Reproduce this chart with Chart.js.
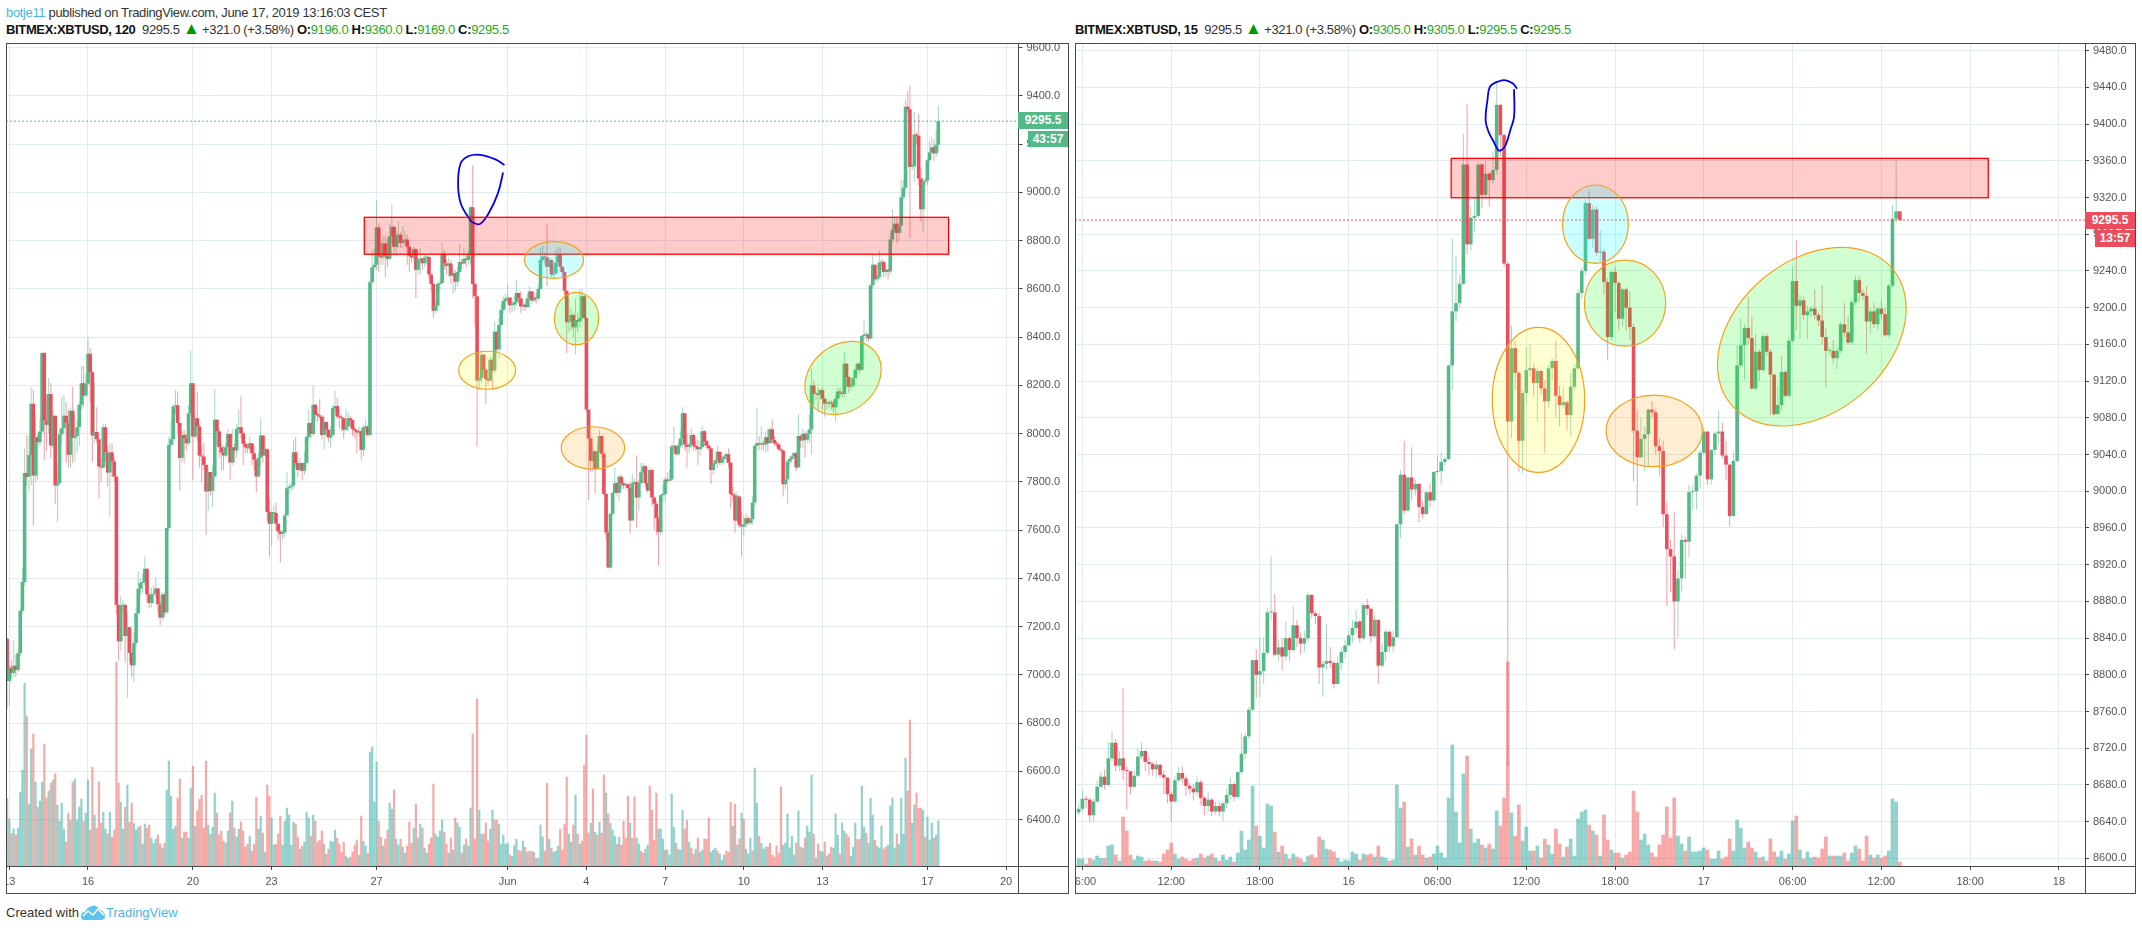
<!DOCTYPE html>
<html>
<head>
<meta charset="utf-8">
<script src="https://cdn.jsdelivr.net/npm/chart.js@4"></script>
<style>
body { margin: 0; background: #fff; width: 2142px; height: 930px; overflow: hidden; font-family: "Liberation Sans", sans-serif; font-size: 13px; color: #333; }
.abs { position: absolute; white-space: nowrap; }
.head { letter-spacing: -0.35px; }
canvas { position: absolute; display: block; }
.frame { position: absolute; box-sizing: border-box; border: 1px solid #4a4a4a; pointer-events: none; }
.rule { position: absolute; background: #4a4a4a; }
.tag { position: absolute; color: #fff; font-weight: bold; font-size: 12px; text-align: center; }
.sym { font-weight: bold; color: #111; }
.val { color: #1ea81e; }
.up { color: #009900; font-size: 17px; line-height: 0; letter-spacing: -1px; }
.blue { color: #4db5e6; }
</style>
</head>
<body>
<div class="abs head" style="left:6px;top:5px"><span class="blue">botje11</span> published on TradingView.com, June 17, 2019 13:16:03 CEST</div>
<div class="abs head" style="left:6px;top:22px"><span class="sym">BITMEX:XBTUSD, 120</span>&nbsp; 9295.5 <span class="up">▲</span> +321.0 (+3.58%) <span class="sym">O:</span><span class="val">9196.0</span> <span class="sym">H:</span><span class="val">9360.0</span> <span class="sym">L:</span><span class="val">9169.0</span> <span class="sym">C:</span><span class="val">9295.5</span></div>
<div class="abs head" style="left:1075px;top:22px"><span class="sym">BITMEX:XBTUSD, 15</span>&nbsp; 9295.5 <span class="up">▲</span> +321.0 (+3.58%) <span class="sym">O:</span><span class="val">9305.0</span> <span class="sym">H:</span><span class="val">9305.0</span> <span class="sym">L:</span><span class="val">9295.5</span> <span class="sym">C:</span><span class="val">9295.5</span></div>

<canvas id="left-chart" width="1062" height="850" style="left:6px;top:43px"></canvas>
<canvas id="right-chart" width="1060" height="850" style="left:1075px;top:43px"></canvas>

<div class="frame" style="left:6px;top:43px;width:1063px;height:851px"></div>
<div class="rule" style="left:1018px;top:43px;width:1px;height:850px"></div>
<div class="rule" style="left:6px;top:866px;width:1062px;height:1px"></div>
<div class="frame" style="left:1075px;top:43px;width:1061px;height:851px"></div>
<div class="rule" style="left:2085px;top:43px;width:1px;height:850px"></div>
<div class="rule" style="left:1075px;top:866px;width:1060px;height:1px"></div>

<div class="tag" style="left:1018px;top:112px;width:50px;height:17px;line-height:17px;background:#53b987">9295.5</div>
<div class="tag" style="left:1028px;top:131px;width:40px;height:16px;line-height:16px;background:#53b987">43:57</div>
<div class="tag" style="left:2085px;top:212px;width:50px;height:17px;line-height:17px;background:#eb4d5c">9295.5</div>
<div class="tag" style="left:2095px;top:230px;width:40px;height:17px;line-height:17px;background:#eb4d5c">13:57</div>

<div class="abs" style="left:6px;top:905px">Created with</div>
<svg class="abs" style="left:81px;top:904px" width="25" height="17" viewBox="0 0 25 17">
  <path d="M3 16 Q0 16 0 12 Q0 8 4 8 Q6 3 11 2 Q15 0 18 5 Q24 7 24 12 Q24 16 20 16 Z" fill="#5cc3ee"/>
  <path d="M2 12 L7 7 L12 11 L17 5 L23 11" fill="none" stroke="#fff" stroke-width="1.6"/>
</svg>
<div class="abs blue" style="left:106px;top:905px">TradingView</div>

<script>
/*
Data: one close, high, low and signed volume per bar
(a bar opens at the previous close, negative volume is a down bar)
*/
const leftFirstOpen = 7150;
const leftCloses = [
    6975,7030,7008,7038,7020,7090,7266,7385,7837,7822,7912,8124,
    7827,7985,7965,8009,8334,8055,8037,8165,7951,8074,7785,7795,
    7998,8023,8074,8044,7913,8095,7982,7990,8027,8120,8209,8158,
    8207,8331,8255,7993,8007,7977,7864,7860,8027,7922,7839,7922,
    7885,7823,7291,7140,7287,7290,7161,7198,7092,7040,7132,7256,
    7357,7381,7385,7440,7333,7298,7333,7338,7358,7293,7238,7333,
    7260,7609,7954,7977,8113,8118,8044,7899,7995,7981,7960,8085,
    8209,7988,8064,8030,7910,7905,7871,7760,7841,7763,7823,8058,
    8010,7944,7922,7910,7944,7999,7881,7944,7930,8019,8027,8002,
    7958,7944,7940,7960,7919,7892,7823,7900,7992,7910,7936,7675,
    7627,7671,7671,7627,7595,7584,7590,7661,7774,7780,7785,7923,
    7878,7850,7878,7846,7880,7986,8044,7999,8120,8082,8075,8070,
    7995,8048,8016,7984,7995,8106,8115,8071,8068,8064,8016,8030,
    8064,8057,8019,8013,8005,8010,7933,8027,8030,7995,8628,8690,
    8700,8855,8738,8730,8788,8738,8725,8818,8858,8775,8822,8825,
    8790,8800,8805,8775,8738,8730,8765,8680,8722,8725,8707,8730,
    8732,8660,8620,8510,8530,8620,8625,8746,8705,8695,8705,8655,
    8665,8630,8670,8712,8705,8725,8720,8740,8939,8620,8570,8220,
    8230,8327,8265,8227,8220,8306,8262,8423,8350,8451,8513,8550,
    8560,8565,8532,8535,8545,8583,8560,8527,8535,8525,8560,8589,
    8552,8565,8560,8600,8720,8735,8730,8692,8720,8660,8665,8710,
    8745,8692,8670,8593,8462,8465,8492,8441,8470,8465,8480,8570,
    8480,8100,7980,7887,7927,7855,7927,7990,7917,7750,7590,7445,
    7668,7755,7795,7755,7822,7795,7785,7790,7775,7640,7795,7800,
    7735,7795,7840,7865,7795,7765,7850,7735,7710,7650,7592,7745,
    7750,7810,7805,7810,7947,7950,7915,7950,7980,8085,7955,7945,
    7955,7995,7950,7945,7935,7945,8010,7970,7950,7940,7850,7875,
    7890,7925,7880,7895,7905,7915,7880,7750,7745,7640,7740,7620,
    7615,7625,7650,7630,7645,7715,7950,7960,7955,7960,7955,7985,
    7960,8018,7975,7960,7955,7935,7930,7790,7810,7885,7895,7905,
    7920,7860,7990,7972,8000,7975,8000,8017,8200,8165,8165,8160,
    8180,8145,8125,8125,8130,8125,8110,8145,8175,8170,8165,8290,
    8235,8195,8200,8230,8265,8290,8265,8405,8410,8410,8395,8615,
    8700,8640,8650,8710,8712,8670,8680,8672,8805,8845,8870,8832,
    8863,8980,9020,9355,9345,9105,9110,9240,9235,9058,8930,9044,
    9050,9133,9167,9187,9163,9198,9295.5
];
const leftHighs = [
    7157,7040,7060,7143,7085,7105,7280,7440,7940,7995,7990,8193,
    8182,8080,8000,8060,8340,8340,8160,8230,8210,8100,8074,7880,
    8020,8151,8160,8130,8100,8110,8195,8080,8060,8130,8281,8280,
    8250,8400,8355,8260,8215,8110,8000,7900,8040,8040,7950,7960,
    7960,7900,7823,7290,7330,7310,7295,7260,7200,7095,7175,7280,
    7429,7400,7420,7491,7440,7340,7360,7370,7405,7360,7300,7345,
    7340,7610,7988,8051,8120,8180,8175,8050,8010,8015,8000,8120,
    8345,8209,8080,8175,8040,7950,7960,7870,7860,7840,7870,8185,
    8060,8020,7960,7950,7960,8020,8000,8020,7960,8040,8100,8155,
    8010,7970,7960,7990,7962,7950,7895,7920,8060,7995,7992,7940,
    7735,7680,7700,7715,7630,7600,7600,7670,7840,7790,7800,7975,
    7985,7890,7900,7880,7925,7992,8100,8050,8198,8125,8090,8143,
    8075,8075,8050,8020,8030,8120,8178,8150,8100,8080,8070,8105,
    8090,8075,8060,8030,8020,8030,8020,8035,8060,8035,8640,8760,
    8770,8966,8870,8800,8820,8820,8810,8870,8952,8860,8840,8880,
    8835,8860,8840,8825,8780,8750,8775,8770,8730,8770,8730,8740,
    8740,8735,8665,8625,8550,8630,8640,8790,8760,8720,8730,8720,
    8680,8680,8690,8787,8725,8770,8740,8760,8945,9112,8625,8570,
    8235,8345,8330,8270,8235,8320,8315,8465,8425,8480,8540,8570,
    8580,8620,8560,8560,8570,8636,8585,8590,8560,8545,8580,8610,
    8595,8590,8580,8615,8770,8780,8750,8866,8730,8725,8700,8760,
    8775,8770,8695,8675,8595,8560,8520,8500,8560,8500,8600,8600,
    8575,8485,8100,7985,7940,7930,7960,8015,7995,7920,7755,7600,
    7670,7760,7860,7800,7830,7830,7800,7800,7795,7800,7835,7815,
    7910,7810,7880,7880,7870,7800,7860,7855,7740,7720,7655,7750,
    7790,7820,7840,7850,7955,8030,7950,7960,8010,8110,8085,8000,
    7960,8020,8000,7970,7975,7970,8030,8015,7975,7955,7945,7880,
    7895,7950,7925,7910,7915,7925,7940,7885,7780,7755,7760,7745,
    7680,7660,7670,7660,7650,7740,7955,8105,7990,8030,7970,8010,
    8020,8030,8060,7990,7970,7965,7940,7935,7815,7890,7905,7915,
    7925,7925,8080,7995,8020,8010,8010,8080,8270,8220,8175,8190,
    8185,8190,8150,8135,8140,8140,8140,8160,8190,8190,8175,8340,
    8295,8240,8205,8235,8270,8295,8295,8410,8470,8420,8415,8620,
    8745,8700,8660,8760,8725,8720,8695,8685,8830,8930,8900,8900,
    8880,9053,9053,9386,9420,9441,9120,9335,9250,9325,9100,9060,
    9060,9140,9215,9230,9220,9260,9360
];
const leftLows = [
    6860,6870,6985,6990,6990,7010,7075,7255,7370,7785,7756,7785,
    7622,7800,7810,7950,8000,7890,7930,8000,7900,7940,7710,7632,
    7790,7960,8000,7880,7860,7860,7880,7885,7920,7950,8100,8110,
    8150,8200,8130,7885,7960,7960,7730,7800,7855,7880,7780,7657,
    7820,7800,7250,7060,7100,7250,7050,6905,7050,6990,6970,7120,
    7250,7330,7340,7370,7300,7275,7280,7295,7320,7260,7205,7225,
    7240,7250,7600,7935,7950,8080,8000,7765,7880,7880,7930,7950,
    8070,7810,7980,7970,7860,7800,7850,7581,7680,7745,7694,7820,
    7950,7900,7850,7850,7900,7940,7809,7870,7880,7900,8000,7980,
    7870,7920,7920,7930,7870,7850,7757,7820,7870,7880,7905,7640,
    7490,7535,7640,7600,7560,7466,7560,7570,7726,7750,7760,7770,
    7860,7820,7840,7809,7830,7875,7970,7980,7990,8060,8050,8060,
    7975,7935,7990,7965,7943,7995,8090,8060,8020,8010,7980,8010,
    8010,8030,7990,7980,7920,7990,7889,7906,8000,7985,7990,8620,
    8680,8680,8670,8700,8700,8650,8690,8720,8790,8750,8740,8770,
    8770,8770,8780,8700,8670,8710,8720,8562,8660,8660,8680,8690,
    8700,8640,8590,8480,8500,8510,8595,8620,8680,8660,8650,8620,
    8580,8590,8610,8650,8680,8700,8690,8700,8700,8560,8450,7947,
    8190,8210,8235,8120,8200,8215,8180,8250,8335,8313,8440,8500,
    8520,8540,8500,8505,8510,8530,8540,8500,8510,8510,8520,8520,
    8540,8545,8540,8550,8607,8710,8700,8610,8690,8650,8645,8660,
    8695,8670,8650,8560,8335,8420,8430,8400,8330,8420,8440,8470,
    8470,8090,7725,7840,7840,7750,7850,7920,7900,7740,7560,7445,
    7440,7660,7750,7740,7720,7770,7770,7770,7760,7585,7640,7790,
    7610,7680,7790,7830,7780,7755,7760,7700,7600,7580,7453,7580,
    7720,7720,7795,7800,7805,7920,7905,7910,7940,7945,7930,7860,
    7920,7940,7930,7930,7870,7910,7940,7950,7940,7930,7790,7830,
    7870,7860,7870,7870,7880,7880,7860,7690,7720,7590,7630,7610,
    7490,7580,7610,7620,7620,7625,7700,7930,7930,7930,7930,7920,
    7925,7960,7960,7950,7945,7930,7925,7740,7770,7710,7870,7880,
    7900,7845,7860,7940,7940,7900,7960,7960,7915,8120,8140,8090,
    8140,8100,8070,8100,8110,8100,8085,8050,8120,8155,8150,8150,
    8190,8170,8180,8190,8230,8260,8250,8260,8390,8380,8380,8390,
    8600,8630,8630,8640,8680,8650,8650,8640,8660,8790,8835,8790,
    8800,8830,8970,9010,9330,8811,9090,9045,9200,9030,8880,8835,
    9030,9030,9125,9160,9130,9150,9169
];
const leftVolumes = [
    -204,142,-99,112,-94,115,223,289,549,-451,187,352,-397,253,-178,196,253,-367,-205,226,-250,259,-277,184,
    136,190,112,-73,-160,139,-253,262,139,178,202,-136,160,259,-109,-298,154,-115,-253,-130,163,112,-97,163,
    -88,-109,-613,-250,193,112,-178,244,-133,-190,128,109,118,-121,67,127,-115,-124,85,69,82,-94,-67,55,
    -70,229,316,211,112,121,-205,-262,85,-103,-103,85,235,-301,121,-166,-202,-214,-115,-316,124,-97,118,220,
    -160,-94,-106,-76,70,106,-160,196,-115,88,112,-133,-106,-58,-67,91,-46,-67,-208,112,151,-100,43,-244,
    -211,145,64,-67,-97,-151,64,136,175,154,64,133,-127,-88,52,-61,73,163,145,-91,154,-136,-73,-79,
    -106,67,-37,-52,76,73,109,-85,-67,-43,-73,31,24,-28,-43,-64,-79,34,-151,76,61,-40,343,358,
    193,313,-136,-88,61,-82,-109,190,172,-229,82,64,-82,58,40,-61,-133,-69,115,-187,85,127,-115,55,
    40,-67,-85,-247,97,88,106,139,-103,-67,40,-85,49,-145,130,118,-40,64,-82,61,175,-397,-82,-502,
    169,97,-97,-130,-76,112,169,-139,-139,127,67,94,67,70,-34,30,62,82,-49,-46,76,-57,43,-46,
    -45,42,-25,25,124,88,-46,-250,82,-55,43,46,61,-112,-49,-127,-268,97,73,-124,214,-97,67,-76,
    -304,-394,-100,130,-232,103,-94,133,-100,-274,220,-157,130,109,91,-67,88,-64,-136,-85,-211,130,-85,-208,
    85,67,-46,-40,52,64,-241,-169,-79,-220,112,112,82,-49,49,34,217,118,-70,52,49,169,-112,-139,
    73,-55,-37,52,-85,43,49,-82,-82,-145,43,49,55,-46,37,19,34,-46,-43,-193,121,-187,64,-82,
    160,-142,52,37,85,-46,295,190,-91,70,52,58,-58,-70,-34,-28,-61,-40,-238,64,70,157,55,91,
    34,-70,166,-58,55,-85,121,103,274,-97,25,-67,46,43,-73,31,-37,-58,55,157,94,-37,130,106,
    -97,-88,31,58,130,-80,-82,241,118,-100,70,205,154,-79,61,55,121,-52,-58,64,181,205,55,-97,
    67,205,97,325,-226,-439,130,184,-220,-175,-175,169,-88,148,79,130,-85,94,136
];

const rightFirstOpen = 8650;
const rightCloses = [
    8654,8665,8664,8647,8662,8678,8689,8680,8709,8726,8701,8709,
    8696,8695,8678,8690,8711,8717,8705,8703,8697,8702,8691,8688,
    8670,8662,8685,8693,8687,8679,8676,8672,8683,8666,8657,8664,
    8651,8657,8651,8660,8669,8681,8667,8694,8714,8733,8762,8816,
    8800,8804,8824,8868,8868,8822,8830,8820,8840,8827,8854,8840,
    8834,8840,8887,8867,8864,8808,8812,8815,8813,8790,8813,8825,
    8832,8843,8851,8858,8840,8876,8872,8842,8860,8810,8825,8847,
    8831,8841,8964,9018,8979,9015,9002,9008,8983,8975,8999,8990,
    9021,9022,9032,9035,9137,9196,9205,9226,9356,9269,9298,9300,
    9356,9323,9346,9339,9350,9421,9388,9248,9076,9156,9129,9055,
    9107,9132,9134,9118,9131,9112,9098,9134,9142,9104,9094,9097,
    9083,9114,9134,9216,9240,9314,9275,9307,9260,9261,9228,9168,
    9239,9227,9188,9220,9200,9179,9066,9037,9057,9062,9089,9086,
    9049,9044,8975,8937,8929,8880,8905,8947,8945,8999,9000,9017,
    9042,9065,9013,9045,9063,9065,9039,9029,8973,9033,9137,9159,
    9178,9167,9112,9152,9132,9169,9152,9127,9084,9094,9130,9104,
    9164,9229,9202,9208,9192,9196,9199,9192,9186,9168,9153,9153,
    9145,9153,9182,9173,9162,9206,9230,9216,9213,9185,9196,9182,
    9199,9193,9170,9224,9297,9305,9295.5
];
const rightHighs = [
    8660,8674,8668,8666,8665,8685,8695,8697,8727,8739,8730,8717,
    8785,8700,8695,8696,8720,8726,8718,8711,8705,8706,8703,8696,
    8688,8673,8690,8700,8700,8690,8682,8681,8689,8686,8668,8672,
    8666,8662,8662,8662,8676,8688,8683,8695,8737,8737,8765,8816,
    8828,8840,8840,8873,8929,8888,8838,8840,8858,8842,8875,8860,
    8846,8848,8890,8888,8870,8868,8816,8855,8830,8815,8820,8830,
    8838,8848,8860,8870,8860,8878,8883,8873,8865,8860,8835,8850,
    8848,8848,8964,9023,9055,9016,9048,9013,9009,8990,9000,9009,
    9022,9039,9043,9038,9138,9275,9256,9236,9389,9422,9310,9321,
    9359,9358,9360,9348,9370,9445,9422,9390,9250,9180,9164,9131,
    9110,9157,9160,9140,9135,9133,9121,9138,9146,9164,9115,9114,
    9099,9129,9138,9220,9244,9318,9328,9312,9310,9284,9264,9232,
    9240,9245,9229,9222,9222,9218,9183,9089,9080,9070,9090,9098,
    9090,9058,9055,8988,8947,8978,8914,8953,8950,9007,9007,9020,
    9045,9070,9066,9046,9065,9088,9075,9055,9030,9044,9159,9188,
    9182,9212,9190,9172,9155,9172,9172,9155,9128,9114,9147,9132,
    9168,9245,9274,9214,9212,9202,9202,9220,9195,9225,9178,9157,
    9165,9158,9185,9205,9190,9208,9235,9234,9220,9224,9200,9205,
    9201,9208,9200,9226,9312,9360,9305
];
const rightLows = [
    8647,8652,8655,8640,8640,8660,8677,8675,8678,8705,8695,8695,
    8685,8653,8670,8677,8688,8708,8695,8690,8690,8688,8688,8670,
    8660,8640,8660,8683,8682,8668,8670,8663,8668,8658,8647,8650,
    8646,8648,8646,8641,8655,8665,8662,8665,8692,8708,8730,8760,
    8775,8776,8790,8822,8860,8820,8815,8805,8815,8815,8825,8830,
    8822,8825,8836,8862,8855,8790,8776,8805,8808,8785,8790,8805,
    8818,8832,8835,8845,8835,8838,8865,8835,8840,8790,8808,8815,
    8825,8825,8840,8949,8975,8978,8990,8995,8966,8970,8975,8983,
    8988,9018,9007,9028,9034,9110,9185,9200,9225,9258,9262,9282,
    9298,9308,9320,9310,9335,9345,9365,9245,8700,9058,9110,9021,
    9020,9096,9125,9103,9076,9105,9042,9091,9121,9081,9071,9091,
    9066,9060,9110,9132,9210,9235,9273,9265,9256,9250,9215,9143,
    9165,9195,9175,9180,9175,9165,9011,8984,9037,9022,9027,9080,
    9040,9016,8961,8875,8890,8828,8840,8891,8905,8928,8980,8980,
    9003,9040,9007,9007,9040,9050,9036,9012,8961,8972,9031,9135,
    9122,9160,9110,9110,9120,9130,9148,9083,9082,9084,9088,9102,
    9102,9162,9175,9166,9186,9166,9190,9188,9180,9160,9113,9148,
    9139,9133,9150,9168,9160,9160,9203,9206,9208,9150,9172,9178,
    9175,9188,9168,9168,9222,9293,9295
];
const rightVolumes = [
    23,22,-7,-24,19,31,24,-24,61,64,-34,16,-148,-106,-34,19,31,28,-16,-19,-16,16,-13,-37,
    -49,-70,37,22,-28,-22,-16,-22,25,-37,-25,31,-37,25,-16,34,19,28,-13,40,106,49,79,241,
    -121,91,55,187,181,-103,43,-61,37,-22,37,-28,-22,13,31,-34,-25,-88,79,52,-49,-43,25,13,
    19,16,43,37,-19,37,-34,-37,28,-61,28,25,-16,19,244,175,-193,58,-82,34,-61,-34,25,-28,
    37,61,40,25,205,364,163,70,277,-331,112,70,82,-64,55,-67,52,166,-121,-205,-613,160,-91,-184,
    76,118,46,-46,61,-25,-82,64,37,-112,-67,28,-58,82,31,142,163,169,-124,106,-94,31,-154,-79,
    49,-40,-40,25,-34,-43,-226,-163,79,97,64,-40,-28,-64,-94,-178,-85,-205,91,67,-46,88,43,43,
    46,55,-49,22,22,46,-22,-28,-82,46,139,115,55,-73,-55,43,-25,28,-16,-82,-43,28,46,-22,
    37,136,-151,49,-22,43,25,-28,-25,-52,-88,31,-31,31,31,-40,-16,40,61,-52,-16,-91,34,-25,
    34,-25,-31,46,202,193,-13
];

const leftPriceTicks = [6400,6600,6800,7000,7200,7400,7600,7800,8000,8200,8400,8600,8800,9000,9200,9400,9600];
const rightPriceTicks = [8600,8640,8680,8720,8760,8800,8840,8880,8920,8960,9000,9040,9080,9120,9160,9200,9240,9280,9320,9360,9400,9440,9480];
const leftTimeLabels = ["13","16","20","23","27","Jun","4","7","10","13","17","20"];
const leftTimeBars = [1,37,85,121,169,229,265,301,337,373,421,457];
const rightTimeLabels = ["06:00","12:00","18:00","16","06:00","12:00","18:00","17","06:00","12:00","18:00","18"];
const rightTimeBars = [1,25,49,73,97,121,145,169,193,217,241,265];
const lastPrice = 9295.5;

/*
Drawings on the charts, in bar numbers and prices
*/
const leftZone = { from: 163.4, to: 430.7, top: 8897, bottom: 8744 };
const rightZone = { from: 100.7, to: 245.9, top: 9362.7, bottom: 9319.8 };
const YELLOW = "rgba(255,255,0,0.18)";
const CYAN = "rgba(0,255,255,0.2)";
const GREEN = "rgba(0,255,0,0.18)";
const ORANGE = "rgba(255,152,0,0.17)";
const leftEllipses = [
    { x: 219.6, y: 8263, rx: 13, ry: 78.8, rot: 0, fill: YELLOW },
    { x: 250.2, y: 8720, rx: 13.5, ry: 75.9, rot: 0, fill: CYAN },
    { x: 260.5, y: 8477.5, rx: 10.1, ry: 108.6, rot: 0, fill: GREEN },
    { x: 268, y: 7941, rx: 14.5, ry: 87.7, rot: 0, fill: ORANGE },
    { x: 382.4, y: 8231, rx: 19, ry: 136, rot: -40, fill: GREEN }
];
const rightEllipses = [
    { x: 139.7, y: 9291, rx: 8.9, ry: 42.7, rot: 0, fill: CYAN },
    { x: 147.7, y: 9205, rx: 11, ry: 46.9, rot: 0, fill: GREEN },
    { x: 124.3, y: 9099.6, rx: 12.5, ry: 79, rot: 0, fill: YELLOW },
    { x: 155.6, y: 9065.8, rx: 13, ry: 39, rot: 0, fill: ORANGE },
    { x: 198.2, y: 9168.4, rx: 28.5, ry: 82.7, rot: -40, fill: GREEN }
];
const leftScribble = [
    [227.5,9114],[223.4,9137],[216.3,9156],[211.2,9151],[207.5,9121],[206.3,9038],[207.5,8955],[211.8,8886],
    [213.2,8875],[216.3,8869],[220.3,8914],[224.5,8996],[226.9,9083]
];
const rightScribble = [
    [118.5,9438.6],[117.3,9444.5],[115.1,9448],[113.1,9446],[111.2,9441],[110.5,9426],[110,9404.5],[110.8,9391.7],
    [112.2,9380.8],[113.4,9371.8],[114.3,9371.8],[115.4,9377],[116.8,9395],[117.7,9408],[117.7,9438]
];

const UP = "#53b987";
const DOWN = "#eb4d5c";
const UP_WICK = "rgba(83,185,135,0.55)";
const DOWN_WICK = "rgba(235,77,92,0.55)";
const UP_VOLUME = "rgba(38,166,154,0.5)";
const DOWN_VOLUME = "rgba(239,83,80,0.5)";
const GRID = "#e1ecf2";
const TEXT = "#555";

function getOpens(firstOpen, closes) {
    return closes.map((close, i) => (i == 0 ? firstOpen : closes[i - 1]));
}

// zone and ellipses go on top of the candles
function drawingsPlugin(zone, ellipses) {
    return {
        id: "drawings",
        afterDatasetsDraw(chart) {
            const { ctx, chartArea, scales: { x, y } } = chart;
            ctx.save();
            ctx.beginPath();
            ctx.rect(chartArea.left, chartArea.top, chartArea.width, chartArea.height);
            ctx.clip();
            const left = x.getPixelForValue(zone.from);
            const top = y.getPixelForValue(zone.top);
            const width = x.getPixelForValue(zone.to) - left;
            const height = y.getPixelForValue(zone.bottom) - top;
            ctx.fillStyle = "rgba(255,0,0,0.2)";
            ctx.fillRect(left, top, width, height);
            ctx.strokeStyle = "#ff0000";
            ctx.lineWidth = 1.3;
            ctx.strokeRect(left, top, width, height);
            ellipses.forEach((e) => {
                const cx = x.getPixelForValue(e.x);
                const cy = y.getPixelForValue(e.y);
                const rx = x.getPixelForValue(e.x + e.rx) - cx;
                const ry = cy - y.getPixelForValue(e.y + e.ry);
                ctx.beginPath();
                ctx.ellipse(cx, cy, rx, ry, e.rot * Math.PI / 180, 0, Math.PI * 2);
                ctx.fillStyle = e.fill;
                ctx.fill();
                ctx.strokeStyle = "#f7a11a";
                ctx.lineWidth = 1.2;
                ctx.stroke();
            });
            ctx.restore();
        }
    };
}

function buildChart(canvasId, panel) {
    const bars = panel.closes.map((close, i) => i);
    const opens = getOpens(panel.firstOpen, panel.closes);
    const isUp = panel.closes.map((close, i) => close >= opens[i]);
    const priceLine = [panel.xMin, panel.xMax].map((x) => ({ x: x, y: lastPrice }));
    return new Chart(document.getElementById(canvasId), {
        type: "bar",
        data: {
            datasets: [
                {
                    type: "line",
                    data: panel.scribble.map((p) => ({ x: p[0], y: p[1] })),
                    borderColor: "#0000ee",
                    borderWidth: 1.8,
                    pointRadius: 0,
                    tension: 0.4,
                    order: 0
                },
                {
                    type: "line",
                    data: priceLine,
                    borderColor: panel.lineColor,
                    borderWidth: 1,
                    borderDash: [2, 2],
                    pointRadius: 0,
                    order: 1
                },
                {
                    data: bars.map((i) => ({ x: i, y: [opens[i], panel.closes[i]] })),
                    backgroundColor: isUp.map((up) => (up ? UP : DOWN)),
                    barThickness: 3.6,
                    minBarLength: 1,
                    inflateAmount: 0,
                    grouped: false,
                    order: 2
                },
                {
                    data: bars.map((i) => ({ x: i, y: [panel.lows[i], panel.highs[i]] })),
                    backgroundColor: isUp.map((up) => (up ? UP_WICK : DOWN_WICK)),
                    barThickness: 1,
                    inflateAmount: 0,
                    grouped: false,
                    order: 3
                },
                {
                    data: bars.map((i) => ({ x: i, y: Math.abs(panel.volumes[i]) })),
                    backgroundColor: panel.volumes.map((v) => (v >= 0 ? UP_VOLUME : DOWN_VOLUME)),
                    barThickness: panel.volumeWidth,
                    inflateAmount: 0,
                    grouped: false,
                    yAxisID: "volume",
                    order: 4
                }
            ]
        },
        options: {
            responsive: false,
            animation: false,
            devicePixelRatio: 1,
            plugins: { legend: { display: false }, tooltip: { enabled: false } },
            scales: {
                x: {
                    type: "linear",
                    offset: false,
                    min: panel.xMin,
                    max: panel.xMax,
                    border: { display: false },
                    grid: { color: GRID, tickColor: "#4a4a4a", tickLength: 4, offset: false },
                    ticks: {
                        color: TEXT,
                        font: { family: "Liberation Sans", size: 11 },
                        autoSkip: false,
                        maxRotation: 0,
                        minRotation: 0,
                        padding: 5,
                        callback: (value) => panel.timeLabels[panel.timeBars.indexOf(value)]
                    },
                    afterBuildTicks: (scale) => {
                        scale.ticks = panel.timeBars.map((value) => ({ value: value }));
                    },
                    afterFit: (scale) => {
                        scale.height = 27;
                        scale.paddingLeft = 0;
                        scale.paddingRight = 0;
                    }
                },
                y: {
                    position: "right",
                    min: panel.yMin,
                    max: panel.yMax,
                    border: { display: false },
                    grid: { color: GRID, tickColor: "#4a4a4a", tickLength: 4 },
                    ticks: {
                        color: TEXT,
                        font: { family: "Liberation Sans", size: 11 },
                        padding: 4,
                        callback: (value) => value.toFixed(1)
                    },
                    afterBuildTicks: (scale) => {
                        scale.ticks = panel.priceTicks.map((value) => ({ value: value }));
                    },
                    afterFit: (scale) => {
                        scale.width = panel.axisWidth;
                        scale.paddingTop = 0;
                        scale.paddingBottom = 0;
                    }
                },
                volume: { display: false, min: 0, max: 2469 }
            }
        },
        plugins: [drawingsPlugin(panel.zone, panel.ellipses)]
    });
}

buildChart("left-chart", {
    firstOpen: leftFirstOpen, closes: leftCloses, highs: leftHighs, lows: leftLows, volumes: leftVolumes,
    priceTicks: leftPriceTicks, timeLabels: leftTimeLabels, timeBars: leftTimeBars,
    zone: leftZone, ellipses: leftEllipses, scribble: leftScribble, lineColor: UP,
    xMin: -0.51, xMax: 462.67, yMin: 6208, yMax: 9619.5, axisWidth: 49.5, volumeWidth: 2.19
});
buildChart("right-chart", {
    firstOpen: rightFirstOpen, closes: rightCloses, highs: rightHighs, lows: rightLows, volumes: rightVolumes,
    priceTicks: rightPriceTicks, timeLabels: rightTimeLabels, timeBars: rightTimeBars,
    zone: rightZone, ellipses: rightEllipses, scribble: rightScribble, lineColor: DOWN,
    xMin: -1, xMax: 272.05, yMin: 8591.7, yMax: 9488.4, axisWidth: 50, volumeWidth: 3.7
});
</script>
</body>
</html>
